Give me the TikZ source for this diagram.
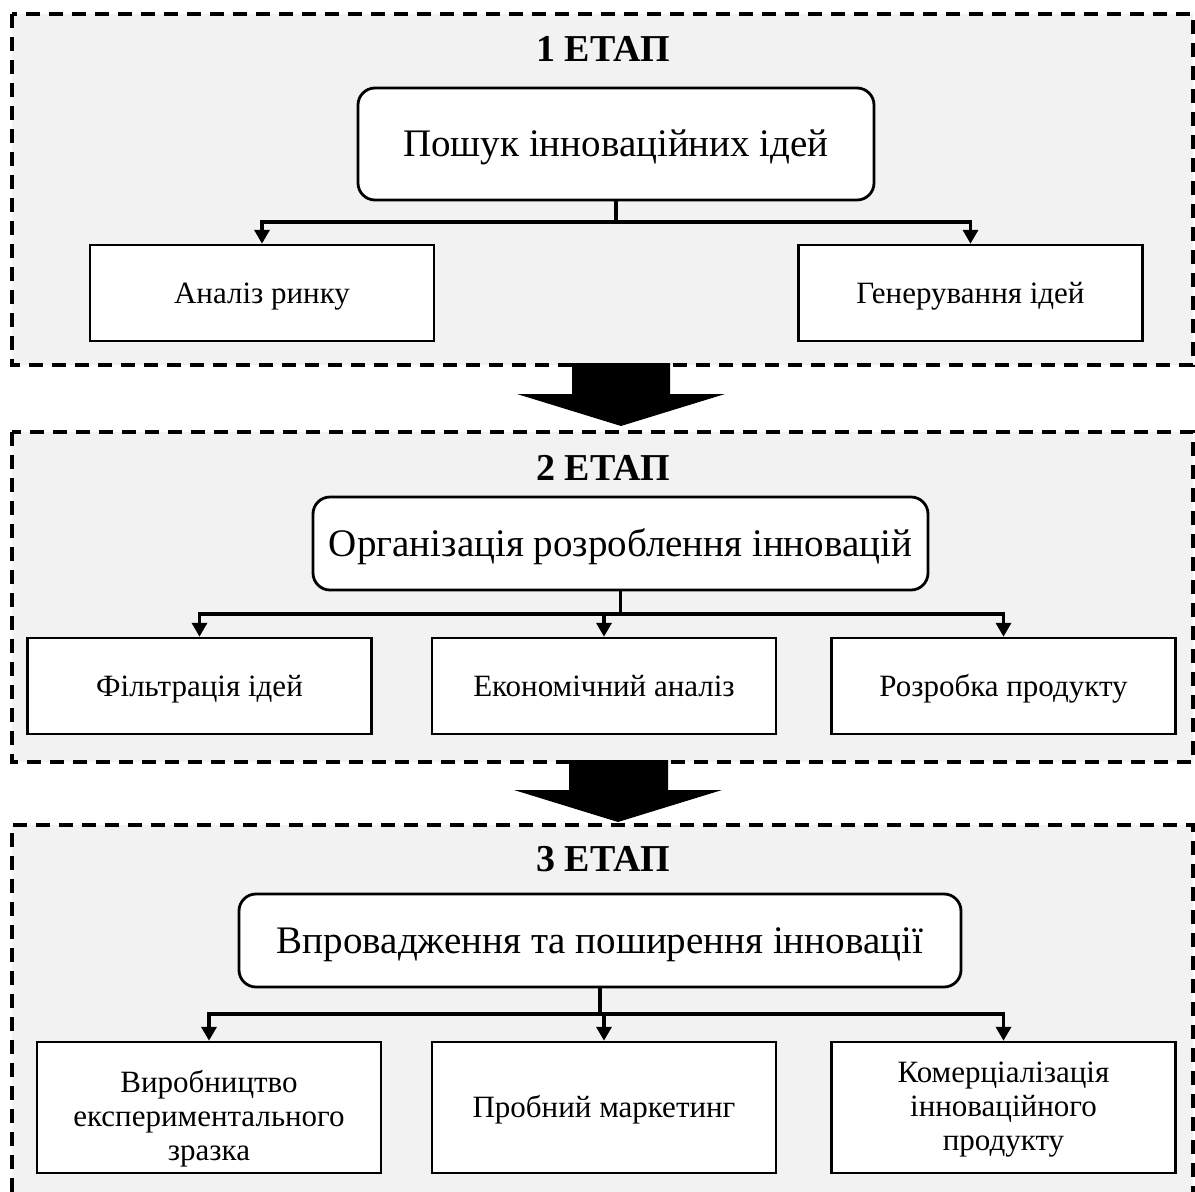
\documentclass[tikz,border=0pt]{standalone}
\usepackage{fontspec}
\setmainfont{Liberation Serif}
\usetikzlibrary{arrows.meta,calc}
\definecolor{stagegray}{HTML}{F2F2F2}
\begin{document}
\begin{tikzpicture}[x=1pt,y=-1pt,
  stageline/.style={draw=black, line width=4pt, dash pattern=on 14pt off 9pt},
  mainbox/.style={draw, fill=white, rounded corners=17pt, line width=2.8pt,
    font=\fontsize{39}{44}\selectfont, inner sep=0pt, text height=25.8pt, text depth=0pt},
  childbox/.style={draw, fill=white, line width=2.5pt, minimum width=344pt,
    font=\fontsize{31}{34}\selectfont, inner sep=0pt, align=center},
  oneline/.style={text height=20.5pt, text depth=0pt},
  stagetitle/.style={font=\fontsize{38}{44}\selectfont\bfseries, inner sep=0pt},
  conn/.style={line width=3.5pt},
  arr/.style={conn, -{Triangle[length=14pt,width=15pt]}},
  bigarrow/.style={fill=black}]

\useasboundingbox (0,0) rectangle (1195,1192);
\fill[white] (0,0) rectangle (1195,1192);

% stage containers
\fill[stagegray] (12,14) rectangle (1193,365);
\draw[stageline] (12,14) rectangle (1193,365);
\fill[stagegray] (12,432) rectangle (1193,762);
\draw[stageline] (12,432) rectangle (1193,762);
\fill[stagegray] (12,825) rectangle (1193,1192);
\draw[stageline] (12,1192) -- (12,825) -- (1193,825) -- (1193,1192);

% big arrows between stages
\fill[bigarrow] (572,363) -- (670,363) -- (670,394) -- (725,394) -- (621,426) -- (517,394) -- (572,394) -- cycle;
\fill[bigarrow] (569,760) -- (668,760) -- (668,790) -- (722,790) -- (618,822) -- (514,790) -- (569,790) -- cycle;

% stage titles
\node[stagetitle] (t1) at (603,49) {1 ЕТАП};
\node[stagetitle] (t2) at (603,468) {2 ЕТАП};
\node[stagetitle] (t3) at (603,859) {3 ЕТАП};

% stage 1
\node[mainbox, minimum width=516pt, minimum height=112pt] (m1) at (616,144) {Пошук інноваційних ідей};
\node[childbox, oneline, minimum height=96pt] (a1) at (262,293) {Аналіз ринку};
\node[childbox, oneline, minimum height=96pt] (g1) at (970.5,293) {Генерування ідей};

% stage 2
\node[mainbox, minimum width=615pt, minimum height=93pt] (m2) at (620.5,543.5) {Організація розроблення інновацій};
\node[childbox, oneline, minimum height=96pt] (f2) at (199.5,686) {Фільтрація ідей};
\node[childbox, oneline, minimum height=96pt] (e2) at (604,686) {Економічний аналіз};
\node[childbox, oneline, minimum height=96pt] (r2) at (1003.5,686) {Розробка продукту};

% stage 3
\node[mainbox, minimum width=722pt, minimum height=93pt] (m3) at (600,940.5) {Впровадження та поширення інновації};
\node[childbox, minimum height=131pt] (v3) at (209,1107.5) {\rule{0pt}{44pt}Виробництво\\експериментального\\зразка};
\node[childbox, oneline, minimum height=131pt] (p3) at (604,1107.5) {Пробний маркетинг};
\node[childbox, minimum height=131pt] (k3) at (1003.5,1107.5) {\rule{0pt}{24pt}Комерціалізація\\інноваційного\\продукту};

% connectors stage 1
\coordinate (y1) at (0,222);
\coordinate (j1) at (m1.south |- y1);
\draw[conn] (m1.south) -- (j1);
\draw[arr] (j1) -| (a1.north);
\draw[arr] (j1) -| (g1.north);

% connectors stage 2
\coordinate (y2) at (0,614);
\coordinate (j2) at (m2.south |- y2);
\draw[conn] (m2.south) -- (j2);
\draw[arr] (j2) -| (f2.north);
\draw[arr] (j2) -| (r2.north);
\draw[arr] (j2 -| e2.north) -- (e2.north);

% connectors stage 3
\coordinate (y3) at (0,1014);
\coordinate (j3) at (m3.south |- y3);
\draw[conn] (m3.south) -- (j3);
\draw[arr] (j3) -| (v3.north);
\draw[arr] (j3) -| (k3.north);
\draw[arr] (j3 -| p3.north) -- (p3.north);
\end{tikzpicture}
\end{document}
